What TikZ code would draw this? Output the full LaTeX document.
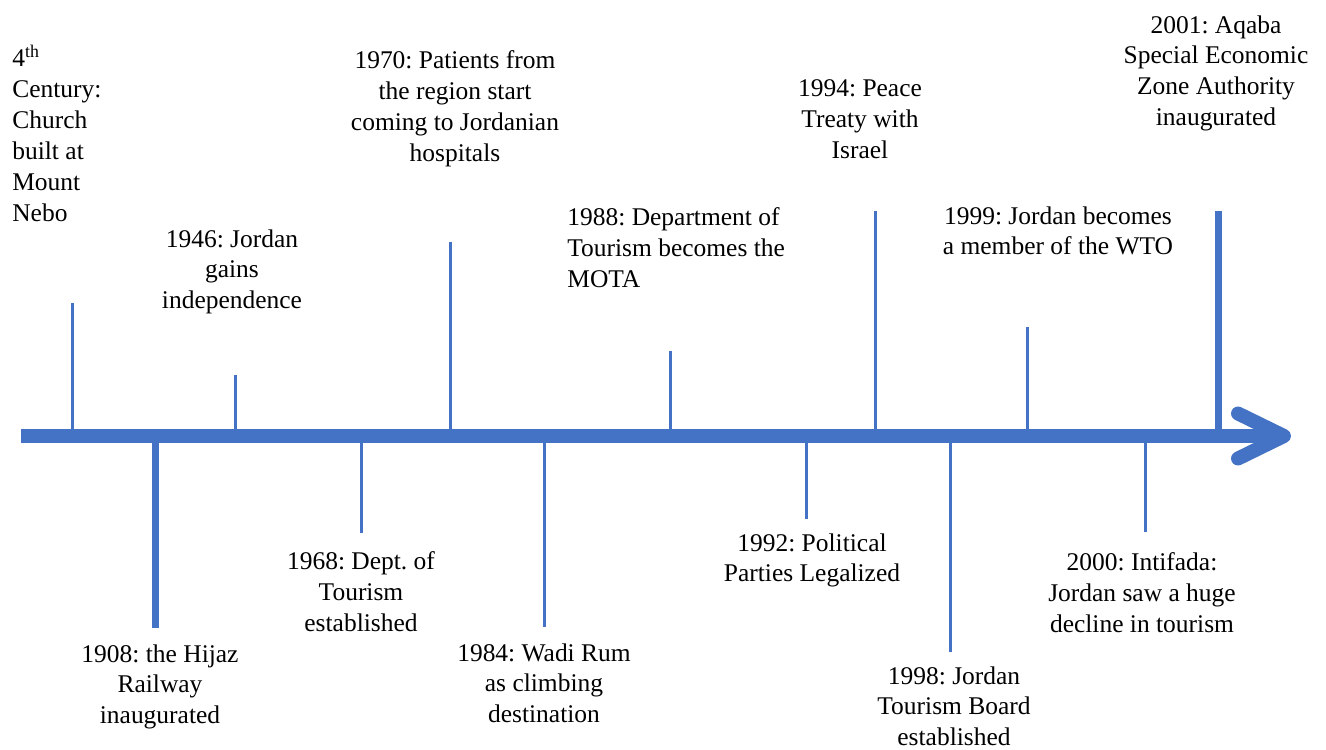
\documentclass[tikz,border=0pt]{standalone}
\usepackage{fontspec}
\setmainfont{Liberation Serif}
\usetikzlibrary{arrows.meta}
\definecolor{lineblue}{RGB}{68,114,196}
\frenchspacing

\begin{document}
\begin{tikzpicture}[x=0.02cm,y=-0.02cm,
    axisline/.style={line width=0.28cm, lineblue, -{Straight Barb[length=0.92cm,width=0.9cm,round]}},
    tick/.style={line width=0.06cm, lineblue},
    bigtick/.style={line width=0.14cm, lineblue},
    event/.style={inner sep=0pt, anchor=north, align=center, font=\fontsize{14.5}{17.6}\selectfont},
    eventl/.style={event, anchor=north west, align=left}]
    \useasboundingbox (0,0) rectangle (1326,750);

    % points on the time axis
    \coordinate (start) at (21,436);
    \coordinate (tip)   at (1291,436);
    \coordinate (a300)  at (72,436);
    \coordinate (a1908) at (155,436);
    \coordinate (a1946) at (235,436);
    \coordinate (a1968) at (361,436);
    \coordinate (a1970) at (450,436);
    \coordinate (a1984) at (544,436);
    \coordinate (a1988) at (670,436);
    \coordinate (a1992) at (806,436);
    \coordinate (a1994) at (875,436);
    \coordinate (a1998) at (950,436);
    \coordinate (a1999) at (1027,436);
    \coordinate (a2000) at (1145,436);
    \coordinate (a2001) at (1218,436);

    % free ends of the ticks
    \coordinate (t300)  at (72,303);
    \coordinate (t1908) at (155,628);
    \coordinate (t1946) at (235,375);
    \coordinate (t1968) at (361,533);
    \coordinate (t1970) at (450,242);
    \coordinate (t1984) at (544,627);
    \coordinate (t1988) at (670,351);
    \coordinate (t1992) at (806,519);
    \coordinate (t1994) at (875,211);
    \coordinate (t1998) at (950,652);
    \coordinate (t1999) at (1027,327);
    \coordinate (t2000) at (1145,532);
    \coordinate (t2001) at (1218,211);

    % events above the axis
    \node[eventl] (n300)  at (12,45)   {4\textsuperscript{th}\\Century:\\Church\\built at\\Mount\\Nebo};
    \node[event]  (n1946) at (232,229) {1946: Jordan\\gains\\independence};
    \node[event]  (n1970) at (455,50)  {1970: Patients from\\the region start\\coming to Jordanian\\hospitals};
    \node[eventl] (n1988) at (567,207) {1988: Department of\\Tourism becomes the\\MOTA};
    \node[event]  (n1994) at (860,79)  {1994: Peace\\Treaty with\\Israel};
    \node[event]  (n1999) at (1058,206) {1999: Jordan becomes\\a member of the WTO};
    \node[event]  (n2001) at (1216,15) {2001: Aqaba\\Special Economic\\Zone Authority\\inaugurated};

    % events below the axis
    \node[event]  (n1908) at (160,644) {1908: the Hijaz\\Railway\\inaugurated};
    \node[event]  (n1968) at (361,551) {1968: Dept. of\\Tourism\\established};
    \node[event]  (n1984) at (544,643) {1984: Wadi Rum\\as climbing\\destination};
    \node[event]  (n1992) at (812,533) {1992: Political\\Parties Legalized};
    \node[event]  (n1998) at (954,666) {1998: Jordan\\Tourism Board\\established};
    \node[event]  (n2000) at (1142,552) {2000: Intifada:\\Jordan saw a huge\\decline in tourism};

    \draw[tick]    (a300)  -- (t300);
    \draw[bigtick] (a1908) -- (t1908);
    \draw[tick]    (a1946) -- (t1946);
    \draw[tick]    (a1968) -- (t1968);
    \draw[tick]    (a1970) -- (t1970);
    \draw[tick]    (a1984) -- (t1984);
    \draw[tick]    (a1988) -- (t1988);
    \draw[tick]    (a1992) -- (t1992);
    \draw[tick]    (a1994) -- (t1994);
    \draw[tick]    (a1998) -- (t1998);
    \draw[tick]    (a1999) -- (t1999);
    \draw[tick]    (a2000) -- (t2000);
    \draw[bigtick] (a2001) -- (t2001);

    \draw[axisline] (start) -- (tip);
\end{tikzpicture}
\end{document}
